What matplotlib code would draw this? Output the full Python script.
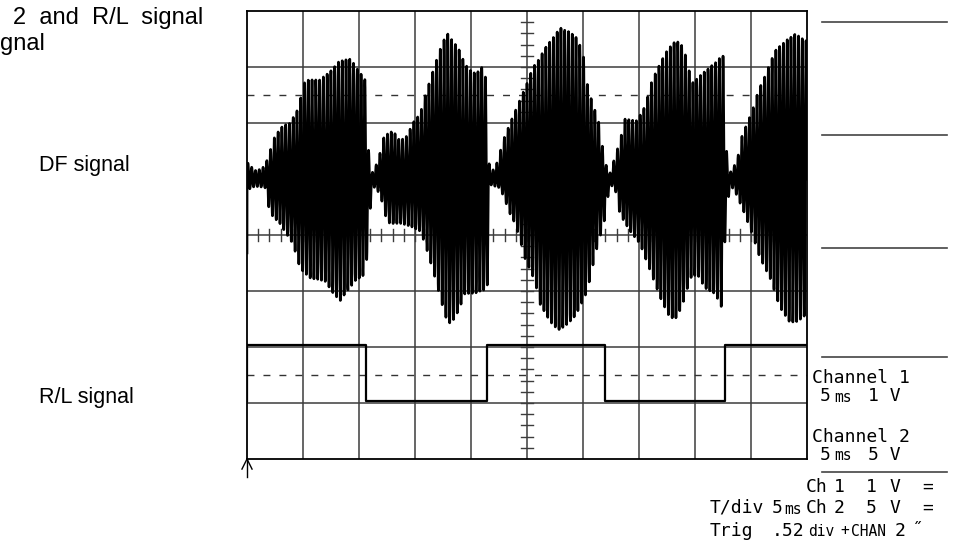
import numpy as np
import matplotlib.pyplot as plt
from matplotlib.lines import Line2D

W, H = 962, 546

# scope screen: 10 x 8 divisions (5 ms/div)
n_xdiv, n_ydiv = 10, 8

# DF signal (channel 1): envelope, time and amplitude in div
df_t_up = [0.00, 0.14, 0.27, 0.36, 0.50, 0.64, 0.77, 0.91, 1.04, 1.30, 1.52, 1.63,
           1.79, 1.86, 1.93, 2.11, 2.16, 2.23, 2.34, 2.45, 2.61, 2.73, 2.86, 2.96,
           3.09, 3.18, 3.36, 3.45, 3.57, 3.68, 3.80, 3.89, 4.04, 4.16, 4.25, 4.30,
           4.36, 4.48, 4.57, 4.75, 5.00, 5.11, 5.23, 5.32, 5.45, 5.59, 5.77, 5.89,
           6.00, 6.09, 6.20, 6.30, 6.38, 6.48, 6.66, 6.75, 6.96, 7.11, 7.23, 7.38,
           7.50, 7.61, 7.73, 7.82, 7.95, 8.14, 8.27, 8.39, 8.50, 8.57, 8.62, 8.75,
           8.84, 9.02, 9.13, 9.25, 9.43, 9.61, 9.79, 10.0]
df_up = [0.30, 0.15, 0.18, 0.34, 0.77, 0.95, 1.00, 1.25, 1.77, 1.77, 1.95, 2.09,
         2.14, 2.14, 2.02, 1.77, 0.59, 0.10, 0.32, 0.77, 0.86, 0.68, 0.77, 1.00,
         1.16, 1.48, 2.05, 2.32, 2.61, 2.46, 2.29, 2.05, 1.89, 1.93, 2.10, 0.40,
         0.10, 0.32, 0.68, 1.12, 1.71, 2.00, 2.16, 2.34, 2.50, 2.70, 2.62, 2.52,
         2.25, 1.60, 1.27, 0.95, 0.32, 0.10, 0.68, 1.07, 1.04, 1.30, 1.75, 2.07,
         2.29, 2.43, 2.46, 2.25, 1.71, 1.89, 2.00, 2.10, 2.23, 0.40, 0.10, 0.32,
         0.77, 1.21, 1.57, 1.84, 2.29, 2.46, 2.59, 2.46]
df_t_low = [0.00, 0.14, 0.32, 0.41, 0.59, 0.82, 0.95, 1.13, 1.39, 1.54, 1.66, 1.75,
            1.93, 2.11, 2.16, 2.23, 2.38, 2.46, 2.55, 2.73, 2.91, 3.09, 3.18, 3.27,
            3.36, 3.45, 3.54, 3.63, 3.71, 3.80, 3.89, 4.07, 4.29, 4.34, 4.52, 4.61,
            4.70, 4.79, 4.88, 4.96, 5.14, 5.23, 5.41, 5.55, 5.68, 5.86, 6.04, 6.13,
            6.21, 6.30, 6.38, 6.48, 6.57, 6.66, 6.84, 7.02, 7.20, 7.38, 7.55, 7.68,
            7.82, 7.91, 8.04, 8.18, 8.36, 8.48, 8.54, 8.62, 8.71, 8.89, 9.02, 9.16,
            9.34, 9.52, 9.70, 9.84, 10.0]
df_low = [0.20, 0.13, 0.15, 0.61, 0.80, 1.16, 1.60, 1.77, 1.82, 2.04, 2.18, 2.05,
          1.82, 1.70, 1.23, 0.10, 0.27, 0.63, 0.80, 0.79, 0.84, 0.93, 1.16, 1.46,
          1.77, 2.12, 2.45, 2.59, 2.48, 2.30, 2.05, 2.04, 1.96, 0.10, 0.16, 0.39,
          0.63, 0.80, 1.10, 1.41, 1.82, 2.23, 2.54, 2.70, 2.63, 2.45, 2.09, 1.77,
          1.38, 1.05, 0.75, 0.10, 0.16, 0.63, 0.93, 1.16, 1.64, 2.12, 2.48, 2.48,
          2.12, 1.77, 1.70, 1.95, 2.05, 2.30, 1.00, 0.10, 0.21, 0.63, 0.98, 1.41,
          1.77, 2.30, 2.57, 2.54, 2.41]
df_offset = 1.0          # div above screen centre
df_cycles_per_div = 14.85
df_start = -0.32         # first sample of the sweep

# R/L signal (channel 2): square wave
rl_edges = [0.0, 2.125, 4.28, 6.39, 8.54]
rl_high = -1.96
rl_low = -2.97

# channel reference markers (dashed)
ref_levels = [2.5, -2.5]

fig = plt.figure(figsize=(W / 100, H / 100), dpi=100)
ax = fig.add_axes([247 / W, (H - 459) / H, 560 / W, 448 / H])
ax.set_xlim(0, n_xdiv)
ax.set_ylim(-n_ydiv / 2, n_ydiv / 2)
ax.set_xticks([])
ax.set_yticks([])
for s in ax.spines.values():
    s.set_color("black")
    s.set_linewidth(1.3)

grid_c = "#3c3c3c"
for i in range(1, n_xdiv):
    ax.axvline(i, color=grid_c, lw=1.1, zorder=1)
for j in range(1, n_ydiv):
    ax.axhline(j - n_ydiv / 2, color=grid_c, lw=1.1, zorder=1)

# minor ticks on the centre axes
tl = 0.107
for v in np.arange(0.2, n_xdiv, 0.2):
    ax.plot([v, v], [-tl, tl], color=grid_c, lw=1.0, zorder=1)
for v in np.arange(-3.8, 4.0, 0.2):
    ax.plot([5 - tl, 5 + tl], [v, v], color=grid_c, lw=1.0, zorder=1)

for lv in ref_levels:
    ax.plot([0, n_xdiv], [lv, lv], color="#333333", lw=1.0,
            dashes=(5, 6.5), zorder=1)

# DF trace
t = np.linspace(0, n_xdiv, 6000)
carrier = np.sin(2 * np.pi * df_cycles_per_div * t)
up = np.interp(t, df_t_up, df_up)
lo = np.interp(t, df_t_low, df_low)
y = df_offset + np.where(carrier > 0, up * carrier, lo * carrier)
t = np.concatenate([[0], t])
y = np.concatenate([[df_start], y])
ax.plot(t, y, color="black", lw=1.9, zorder=3)

# R/L trace
xs, ys = [0], [rl_low]
level = rl_low
for k, e in enumerate(rl_edges):
    xs.append(e)
    ys.append(level)
    level = rl_high if k % 2 == 0 else rl_low
    xs.append(e)
    ys.append(level)
xs.append(n_xdiv)
ys.append(level)
ax.plot(xs, ys, color="black", lw=1.6, zorder=3)

# trigger marker below the screen
ax.plot([0, 0], [-4, -4.32], color="black", lw=1.0, clip_on=False)
ax.plot([-0.09, 0, 0.09], [-4.18, -4, -4.18], color="black", lw=1.0, clip_on=False)


def px(x, y):
    return x / W, 1 - y / H


# side panel
for yy in [22, 135, 248, 357, 472]:
    fig.add_artist(Line2D([822 / W, 947 / W], [1 - yy / H] * 2, color="#444444", lw=1.2))

mono = dict(family="DejaVu Sans Mono", fontsize=13, va="center", color="black")
small = dict(family="DejaVu Sans Mono", fontsize=10.5, va="center", color="black")
fig.text(*px(812, 378), "Channel 1", **mono)
fig.text(*px(820, 396), "5", **mono)
fig.text(*px(834, 397), "ms", **small)
fig.text(*px(868, 396), "1 V", **mono)
fig.text(*px(812, 437), "Channel 2", **mono)
fig.text(*px(820, 455), "5", **mono)
fig.text(*px(834, 456), "ms", **small)
fig.text(*px(868, 455), "5 V", **mono)

# status lines: (x, y, text, style)
status = [
    (806, 487, "Ch", mono), (834, 487, "1", mono), (866, 487, "1", mono),
    (890, 487, "V", mono), (922, 487, "=", mono),
    (710, 508, "T/div", mono), (772, 508, "5", mono), (784, 509, "ms", small),
    (806, 508, "Ch", mono), (834, 508, "2", mono), (866, 508, "5", mono),
    (890, 508, "V", mono), (922, 508, "=", mono),
    (710, 531, "Trig", mono), (772, 531, ".52", mono), (808, 532, "div", small),
    (840, 531, "+", small), (851, 532, "CHAN", small), (895, 531, "2", mono),
    (912, 530, "\u02dd", mono),
]
for sx, sy, s, st in status:
    fig.text(*px(sx, sy), s, **st)

# document text around the screenshot
sans = dict(family="Liberation Sans", va="center", color="black")
fig.text(*px(13, 18), "2  and  R/L  signal", fontsize=17, **sans)
fig.text(*px(0, 44), "gnal", fontsize=17, **sans)
fig.text(*px(39, 165), "DF signal", fontsize=15.5, **sans)
fig.text(*px(39, 397), "R/L signal", fontsize=15.5, **sans)

fig.savefig("out.png", dpi=100)
